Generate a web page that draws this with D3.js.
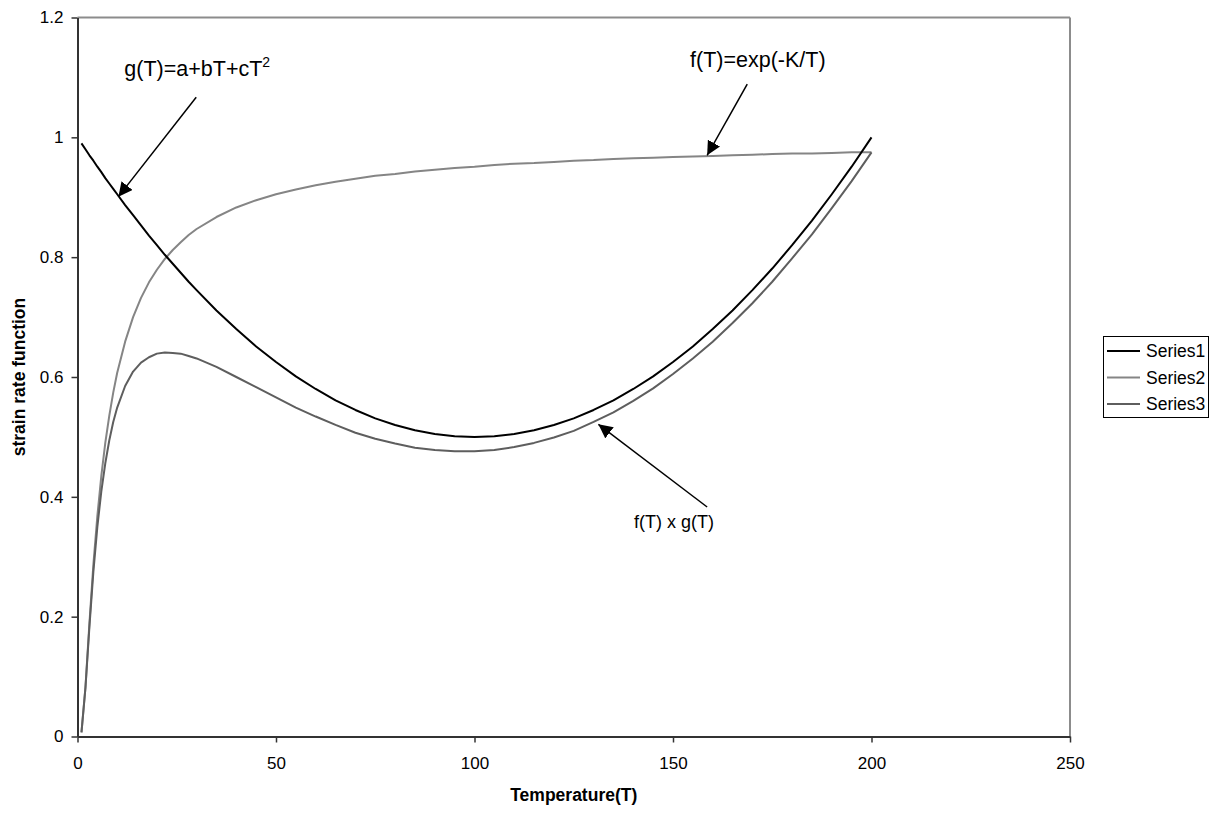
<!DOCTYPE html>
<html>
<head>
<meta charset="utf-8">
<script src="https://cdn.jsdelivr.net/npm/d3@7"></script>
<style>
  body { margin: 0; background: #fff; }
  svg { display: block; font-family: Arial, "Liberation Sans", sans-serif; }
</style>
</head>
<body>
<svg id="chart" width="1217" height="814"></svg>
<script>
// ---- data ----
const temperature = [1,2,3,4,5,6,7,8,9,10,12,14,16,18,20,22,24,26,28,30,35,40,45,50,55,60,65,70,75,80,85,90,95,100,105,110,115,120,125,130,135,140,145,150,155,160,165,170,175,180,185,190,195,200];
const series1 = [0.990,0.980,0.970,0.961,0.951,0.942,0.932,0.923,0.914,0.905,0.887,0.870,0.853,0.836,0.820,0.804,0.789,0.774,0.759,0.745,0.711,0.680,0.651,0.625,0.601,0.580,0.561,0.545,0.531,0.520,0.511,0.505,0.501,0.500,0.501,0.505,0.511,0.520,0.531,0.545,0.561,0.580,0.601,0.625,0.651,0.680,0.711,0.745,0.781,0.820,0.861,0.905,0.951,1.000];
const series2 = [0.007,0.082,0.189,0.287,0.368,0.435,0.490,0.535,0.574,0.607,0.659,0.700,0.732,0.758,0.779,0.797,0.812,0.825,0.837,0.847,0.867,0.883,0.895,0.905,0.913,0.920,0.926,0.931,0.936,0.939,0.943,0.946,0.949,0.951,0.954,0.956,0.957,0.959,0.961,0.962,0.964,0.965,0.966,0.967,0.968,0.969,0.970,0.971,0.972,0.973,0.973,0.974,0.975,0.975];
const series3 = [0.007,0.081,0.183,0.275,0.350,0.409,0.456,0.494,0.525,0.549,0.585,0.609,0.624,0.633,0.639,0.641,0.640,0.639,0.635,0.631,0.617,0.600,0.583,0.566,0.549,0.534,0.520,0.507,0.497,0.489,0.482,0.478,0.476,0.476,0.478,0.483,0.490,0.499,0.510,0.525,0.541,0.560,0.581,0.605,0.631,0.659,0.690,0.723,0.759,0.798,0.838,0.882,0.927,0.975];
const seriesNames = ["Series1","Series2","Series3"];
const xTicks = [0,50,100,150,200,250];
const yTicks = [0,0.2,0.4,0.6,0.8,1.0,1.2];
const xTitle = "Temperature(T)";
const yTitle = "strain rate function";

(function () {
// ---- layout ----
const svg = d3.select("#chart");
const pL = 77.5, pR = 1070, pT = 17.5, pB = 736.5;
const x = d3.scaleLinear().domain([0,250]).range([pL,pR]);
const y = d3.scaleLinear().domain([0,1.2]).range([pB,pT]);
const colors = ["#000000","#858585","#5e5e5e"];
const widths = [2, 2, 2];

// plot frame (top & right in grey)
svg.append("line").attr("x1",pL).attr("x2",pR).attr("y1",pT).attr("y2",pT)
  .attr("stroke","#8c8c8c").attr("stroke-width",2);
svg.append("line").attr("x1",pR).attr("x2",pR).attr("y1",pT).attr("y2",pB)
  .attr("stroke","#8c8c8c").attr("stroke-width",2);

// axes
const fmtY = d => d === 0 ? "0" : (d === 1 ? "1" : d3.format(".1f")(d));
const gx = svg.append("g").attr("transform",`translate(0,${pB})`)
  .call(d3.axisBottom(x).tickValues(xTicks).tickSize(6).tickSizeOuter(0).tickPadding(14).tickFormat(d3.format("d")));
const gy = svg.append("g").attr("transform",`translate(${pL},0)`)
  .call(d3.axisLeft(y).tickValues(yTicks).tickSize(6).tickSizeOuter(0).tickPadding(8).tickFormat(fmtY));
[gx,gy].forEach(g => {
  g.select(".domain").attr("stroke","#333").attr("stroke-width",2);
  g.selectAll(".tick line").attr("stroke","#333").attr("stroke-width",1.5);
  g.selectAll(".tick text").attr("fill","#000").style("font-size","17px").style("font-family","Arial, 'Liberation Sans', sans-serif");
});

// axis titles
svg.append("text").attr("x",(pL+pR)/2).attr("y",801).attr("text-anchor","middle")
  .style("font-size","17.5px").style("font-weight","bold").text(xTitle);
svg.append("text").attr("transform",`translate(25,${(pT+pB)/2}) rotate(-90)`).attr("text-anchor","middle")
  .style("font-size","17.5px").style("font-weight","bold").text(yTitle);

// series lines
const allSeries = [series1, series2, series3];
const line = d3.line().x((d,i)=>x(temperature[i])).y(d=>y(d));
[1,2,0].forEach(k => {
  svg.append("path").datum(allSeries[k]).attr("d",line).attr("fill","none")
    .attr("stroke",colors[k]).attr("stroke-width",widths[k]).attr("stroke-linejoin","round");
});

// arrow marker
svg.append("defs").append("marker").attr("id","arrow").attr("viewBox","0 0 10 10")
  .attr("refX",10).attr("refY",5).attr("markerWidth",14).attr("markerHeight",14)
  .attr("markerUnits","userSpaceOnUse").attr("orient","auto")
  .append("path").attr("d","M0,0 L10,5 L0,10 Z").attr("fill","#000");

// annotations (in data coordinates)
const annotations = [
  {from:[29.9,1.067], to:[10.3,0.901]},
  {from:[168.7,1.089], to:[158.6,0.970]},
  {from:[158.6,0.383], to:[131.2,0.521]}
];
annotations.forEach(a => {
  svg.append("line").attr("x1",x(a.from[0])).attr("y1",y(a.from[1]))
    .attr("x2",x(a.to[0])).attr("y2",y(a.to[1]))
    .attr("stroke","#000").attr("stroke-width",1.5).attr("marker-end","url(#arrow)");
});

const t1 = svg.append("text").attr("x",x(11.8)).attr("y",y(1.102)).style("font-size","21.5px");
t1.append("tspan").text("g(T)=a+bT+cT");
t1.append("tspan").attr("dy",-9).style("font-size","14px").text("2");
svg.append("text").attr("x",x(154.3)).attr("y",y(1.117)).style("font-size","21.5px").text("f(T)=exp(-K/T)");
svg.append("text").attr("x",x(140.2)).attr("y",y(0.348)).style("font-size","18px").text("f(T) x g(T)");

// legend
const lg = svg.append("g");
lg.append("rect").attr("x",1103.5).attr("y",336.5).attr("width",105).attr("height",81)
  .attr("fill","#fff").attr("stroke","#000").attr("stroke-width",1);
seriesNames.forEach((name,i) => {
  const cy = 351 + i*26.5;
  lg.append("line").attr("x1",1107).attr("x2",1140).attr("y1",cy).attr("y2",cy)
    .attr("stroke",colors[i]).attr("stroke-width",2);
  lg.append("text").attr("x",1146).attr("y",cy).attr("dy","0.35em").style("font-size","17.5px").text(name);
});
})();
</script>
</body>
</html>
